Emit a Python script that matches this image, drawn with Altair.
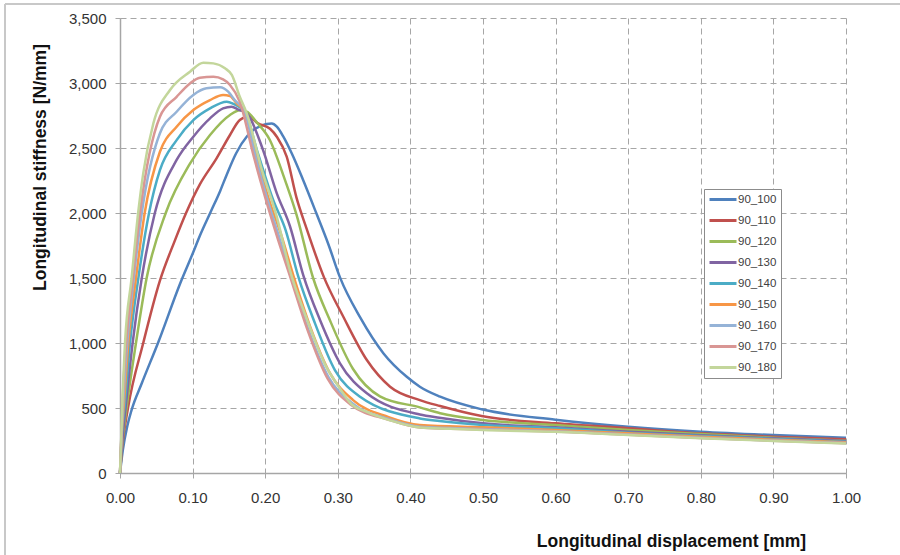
import altair as alt
import pandas as pd

# Longitudinal stiffness curves, one pair of arrays per specimen (x in mm, y in N/mm)
x_90_100 = [0.0, 0.004, 0.010, 0.016, 0.030, 0.053, 0.083, 0.101, 0.110, 0.125, 0.138, 0.147, 0.160, 0.175, 0.184, 0.195, 0.202, 0.209, 0.216, 0.225, 0.2365, 0.2525, 0.271, 0.287, 0.303, 0.331, 0.363, 0.395, 0.413, 0.441, 0.498, 0.6, 0.7, 0.8, 0.9, 1.0]
y_90_100 = [0, 180, 360, 485, 690, 1010, 1460, 1700, 1825, 2010, 2170, 2295, 2460, 2590, 2640, 2672, 2685, 2688, 2664, 2587, 2459, 2250, 1990, 1760, 1505, 1195, 920, 740, 664, 587, 490, 410, 356, 318, 292, 272]

x_90_110 = [0.0, 0.003, 0.011, 0.032, 0.055, 0.075, 0.091, 0.110, 0.133, 0.1515, 0.165, 0.177, 0.190, 0.2066, 0.216, 0.2296, 0.243, 0.257, 0.281, 0.3076, 0.340, 0.372, 0.413, 0.441, 0.498, 0.6, 0.7, 0.8, 0.9, 1.0]
y_90_110 = [0, 200, 500, 1000, 1480, 1780, 2000, 2220, 2420, 2600, 2715, 2742, 2690, 2648, 2587, 2433, 2120, 1880, 1505, 1202, 869, 664, 561, 515, 438, 382, 344, 305, 279, 259]

x_90_120 = [0.0, 0.003, 0.009, 0.022, 0.0367, 0.063, 0.0964, 0.124, 0.1515, 0.165, 0.1745, 0.188, 0.2066, 0.225, 0.243, 0.266, 0.289, 0.321, 0.358, 0.413, 0.441, 0.5, 0.6, 0.7, 0.8, 0.9, 1.0]
y_90_120 = [0, 220, 500, 1000, 1500, 2000, 2380, 2600, 2754, 2790, 2780, 2700, 2560, 2290, 1990, 1500, 1177, 800, 590, 505, 460, 408, 369, 331, 300, 272, 249]

x_90_130 = [0.0, 0.003, 0.008, 0.0174, 0.030, 0.048, 0.078, 0.101, 0.124, 0.142, 0.1538, 0.163, 0.1745, 0.197, 0.216, 0.234, 0.2525, 0.2755, 0.303, 0.340, 0.413, 0.440, 0.5, 0.6, 0.7, 0.8, 0.9, 1.0]
y_90_130 = [0, 240, 520, 1000, 1500, 2000, 2408, 2587, 2728, 2805, 2818, 2795, 2767, 2485, 2151, 1900, 1520, 1177, 844, 613, 450, 425, 382, 351, 318, 290, 267, 246]

x_90_140 = [0.0, 0.002, 0.007, 0.0138, 0.0253, 0.040, 0.055, 0.078, 0.101, 0.124, 0.147, 0.156, 0.172, 0.190, 0.211, 0.228, 0.2456, 0.2686, 0.296, 0.3306, 0.413, 0.440, 0.5, 0.6, 0.7, 0.8, 0.9, 1.0]
y_90_140 = [0, 250, 550, 1000, 1500, 2000, 2330, 2561, 2715, 2805, 2856, 2840, 2775, 2459, 2100, 1870, 1510, 1151, 792, 587, 420, 400, 369, 344, 310, 285, 262, 241]

x_90_150 = [0.0, 0.002, 0.006, 0.0115, 0.022, 0.034, 0.055, 0.078, 0.101, 0.124, 0.142, 0.1515, 0.1607, 0.172, 0.188, 0.204, 0.2227, 0.2387, 0.2617, 0.289, 0.321, 0.370, 0.413, 0.5, 0.6, 0.7, 0.8, 0.9, 1.0]
y_90_150 = [0, 270, 580, 1000, 1500, 2000, 2471, 2664, 2792, 2869, 2908, 2900, 2843, 2775, 2440, 2125, 1820, 1520, 1130, 770, 561, 430, 369, 351, 331, 305, 279, 256, 236]

x_90_160 = [0.0, 0.002, 0.005, 0.010, 0.019, 0.030, 0.055, 0.078, 0.101, 0.119, 0.138, 0.149, 0.158, 0.172, 0.186, 0.202, 0.220, 0.236, 0.259, 0.287, 0.319, 0.370, 0.413, 0.5, 0.6, 0.7, 0.8, 0.9, 1.0]
y_90_160 = [0, 290, 600, 1000, 1500, 2000, 2613, 2779, 2908, 2959, 2967, 2933, 2869, 2775, 2450, 2125, 1800, 1510, 1110, 740, 540, 415, 355, 338, 322, 297, 272, 250, 230]

x_90_170 = [0.0, 0.002, 0.004, 0.0085, 0.0175, 0.0275, 0.055, 0.078, 0.0964, 0.110, 0.1286, 0.142, 0.1515, 0.165, 0.184, 0.200, 0.218, 0.235, 0.258, 0.286, 0.318, 0.370, 0.413, 0.5, 0.6, 0.7, 0.8, 0.9, 1.0]
y_90_170 = [0, 300, 600, 1000, 1500, 2000, 2741, 2894, 2997, 3041, 3048, 3028, 2985, 2856, 2440, 2120, 1790, 1500, 1105, 725, 525, 410, 350, 334, 319, 295, 270, 249, 229]

x_90_180 = [0.0, 0.002, 0.004, 0.0069, 0.016, 0.025, 0.032, 0.046, 0.0689, 0.0964, 0.1148, 0.1286, 0.1446, 0.154, 0.165, 0.1745, 0.195, 0.216, 0.234, 0.257, 0.283, 0.303, 0.317, 0.340, 0.372, 0.413, 0.455, 0.5, 0.6, 0.7, 0.8, 0.9, 1.0]
y_90_180 = [0, 320, 650, 1000, 1500, 2000, 2305, 2690, 2946, 3087, 3156, 3151, 3113, 3062, 2894, 2767, 2340, 1970, 1560, 1190, 830, 650, 540, 470, 405, 350, 340, 330, 317, 292, 268, 247, 226]

series_names = ["90_100", "90_110", "90_120", "90_130", "90_140",
                "90_150", "90_160", "90_170", "90_180"]
series_colors = ["#4F81BD", "#C0504D", "#9BBB59", "#8064A2", "#4BACC6",
                 "#F79646", "#95B3D7", "#D99694", "#C3D69B"]
series_x = [x_90_100, x_90_110, x_90_120, x_90_130, x_90_140,
            x_90_150, x_90_160, x_90_170, x_90_180]
series_y = [y_90_100, y_90_110, y_90_120, y_90_130, y_90_140,
            y_90_150, y_90_160, y_90_170, y_90_180]

x_ticks = [0.0, 0.1, 0.2, 0.3, 0.4, 0.5, 0.6, 0.7, 0.8, 0.9, 1.0]
y_ticks = [0, 500, 1000, 1500, 2000, 2500, 3000, 3500]

rows = []
for name, xs, ys in zip(series_names, series_x, series_y):
    for xv, yv in zip(xs, ys):
        rows.append({"series": name, "disp": xv, "stiff": yv})
df = pd.DataFrame(rows)

FONT = "Liberation Sans"
GRID = "#A6A6A6"

lines = alt.Chart(df).mark_line(interpolate="monotone", strokeWidth=2.5).encode(
    x=alt.X("disp:Q",
            scale=alt.Scale(domain=[0, 1], nice=False, zero=False),
            axis=alt.Axis(values=x_ticks, format=".2f", labelFlush=False,
                          title="Longitudinal displacement [mm]",
                          titleX=551, titleY=73, titleAlign="center",
                          titleBaseline="alphabetic",
                          labelPadding=12)),
    y=alt.Y("stiff:Q",
            scale=alt.Scale(domain=[0, 3500], nice=False),
            axis=alt.Axis(values=y_ticks, format=",.0f", labelFlush=False,
                          title="Longitudinal stiffness [N/mm]",
                          titleX=-75, titleY=149, titleAlign="center",
                          titleBaseline="alphabetic", titleAngle=270,
                          labelPadding=9)),
    color=alt.Color("series:N",
                    scale=alt.Scale(domain=series_names, range=series_colors),
                    legend=alt.Legend(title=None, orient="none",
                                      legendX=584, legendY=171,
                                      symbolType="M-1,0H4.4", symbolSize=100,
                                      symbolStrokeWidth=3,
                                      labelFontSize=11.5, labelFont=FONT,
                                      labelColor="#404040", labelOffset=17,
                                      rowPadding=8, padding=4,
                                      strokeColor="#8C8C8C",
                                      fillColor="white")),
)

# light frame along the top and left edges of the figure
frame = alt.Chart(alt.Data(values=[{}])).mark_rule(color="#C8C8C8", strokeWidth=2).encode(
    x=alt.value(-115), x2=alt.value(790), y=alt.value(-14)
) + alt.Chart(alt.Data(values=[{}])).mark_rule(color="#C8C8C8", strokeWidth=2).encode(
    x=alt.value(-115), y=alt.value(-14), y2=alt.value(545)
)

chart = alt.layer(frame, lines).properties(
    width=726, height=455,
    padding={"left": 120, "top": 18, "right": 54, "bottom": 82},
    autosize=alt.AutoSizeParams(type="none"),
    background="white",
).configure_view(stroke=None).configure_axis(
    labelFont=FONT, titleFont=FONT,
    labelFontSize=15, labelColor="#333333",
    titleFontSize=17.5, titleFontWeight="bold", titleColor="#111111",
    gridColor=GRID, gridDash=[6, 4], gridWidth=1,
    domainColor="#A6A6A6", domainWidth=1.5,
    tickColor="#A6A6A6", tickSize=5,
)

chart.save("out.html", embed_options={"renderer": "svg", "actions": False})
